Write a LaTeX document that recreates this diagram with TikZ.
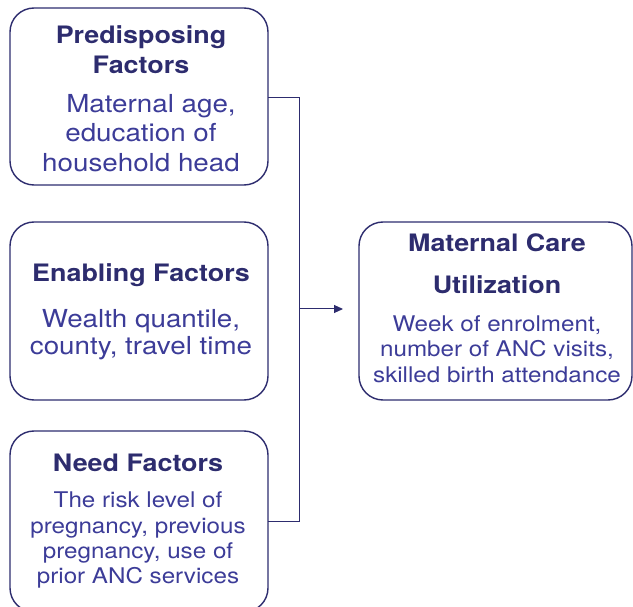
\documentclass[tikz,border=0pt]{standalone}
\usepackage{fontspec}
\setmainfont[FakeStretch=1.12]{TeX Gyre Heros}
\usetikzlibrary{arrows.meta}
\definecolor{navy}{HTML}{2D2C6E}
\definecolor{bodyblue}{HTML}{3C3C98}
\begin{document}
\begin{tikzpicture}[x=1pt,y=-1pt,
  box/.style={draw=navy,line width=1.4pt,rounded corners=24pt},
  ttl/.style={anchor=base,inner sep=0pt,text=navy,font=\fontsize{24}{28}\selectfont\bfseries},
  bigtxt/.style={anchor=base,inner sep=0pt,text=bodyblue,font=\fontsize{24.8}{28}\selectfont},
  smalltxt/.style={anchor=base,inner sep=0pt,text=bodyblue,font=\fontsize{21.6}{25}\selectfont},
  conn/.style={draw=navy,line width=1pt}]
\useasboundingbox (0,0) rectangle (633,607);
% boxes
\draw[box] (10,8) rectangle (268,185);
\node[inner sep=0pt,minimum width=258pt,minimum height=177pt] (pre) at (139,96.5) {};
\draw[box] (10,222) rectangle (268,400);
\node[inner sep=0pt,minimum width=258pt,minimum height=178pt] (ena) at (139,311) {};
\draw[box] (10,431) rectangle (268,612);
\node[inner sep=0pt,minimum width=258pt,minimum height=181pt] (need) at (139,521.5) {};
\draw[box] (359,222) rectangle (632,400);
\node[inner sep=0pt,minimum width=273pt,minimum height=178pt] (mcu) at (495.5,311) {};
% texts box 1
\node[ttl] (p1) at (141,44) {Predisposing};
\node[ttl] (p2) at (141,74) {Factors};
\node[bigtxt] (p3) at (151,113) {Maternal age,};
\node[bigtxt] (p4) at (141,142) {education of};
\node[bigtxt] (p5) at (141,172) {household head};
% box 2
\node[ttl] (e1) at (141,282) {Enabling Factors};
\node[bigtxt] (e2) at (141,327) {Wealth quantile,};
\node[bigtxt] (e3) at (141,355) {county, travel time};
% box 3
\node[ttl] (n1) at (138,471) {Need Factors};
\node[smalltxt] (n2) at (138,507) {The risk level of};
\node[smalltxt] (n3) at (138,533) {pregnancy, previous};
\node[smalltxt] (n4) at (138,558) {pregnancy, use of};
\node[smalltxt] (n5) at (138,583) {prior ANC services};
% box 4
\node[ttl] (m1) at (497,252) {Maternal Care};
\node[ttl] (m2) at (497,294) {Utilization};
\node[smalltxt] (m3) at (497,332) {Week of enrolment,};
\node[smalltxt] (m4) at (497,357) {number of ANC visits,};
\node[smalltxt] (m5) at (497,383) {skilled birth attendance};
% connectors
\coordinate (top) at (299,98);
\coordinate (bot) at (299,521);
\coordinate (mid) at (299,309);
\draw[conn] (pre.east |- top) -- (top) -- (bot) -- (need.east |- bot);
\draw[conn,-{Triangle[length=9pt,width=8pt]}] (mid) -- (343,309) coordinate (tip);
\end{tikzpicture}
\end{document}
